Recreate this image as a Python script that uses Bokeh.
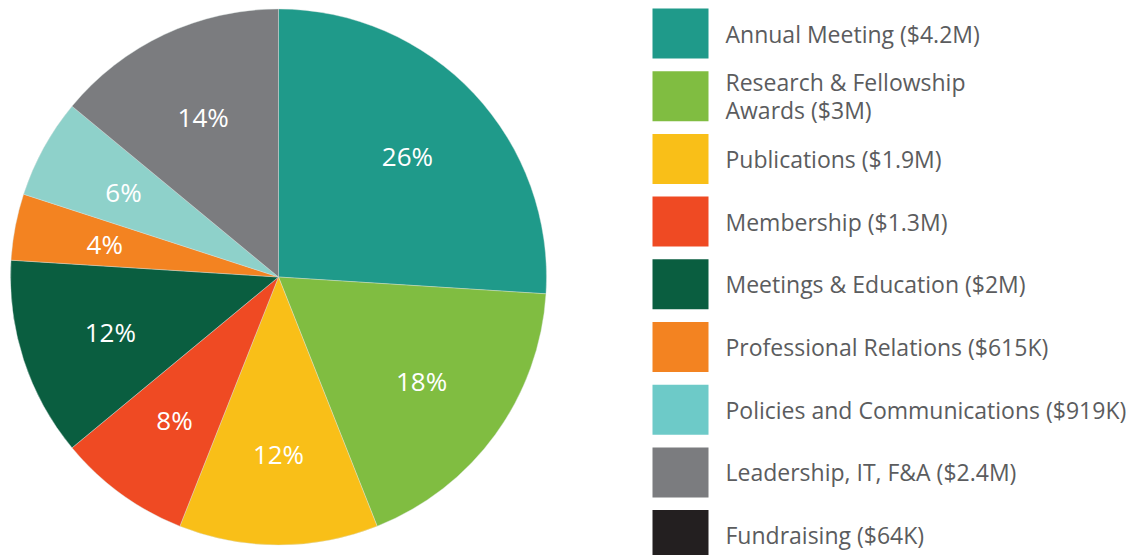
import math
from bokeh.plotting import figure
from bokeh.models import ColumnDataSource
from bokeh.core.properties import value
from bokeh.embed import file_html
from bokeh.resources import INLINE

# ---- data ----
categories = ["Annual Meeting", "Research & Fellowship\nAwards", "Publications", "Membership",
              "Meetings & Education", "Professional Relations", "Policies and Communications",
              "Leadership, IT, F&A", "Fundraising"]
amounts = ["$4.2M", "$3M", "$1.9M", "$1.3M", "$2M", "$615K", "$919K", "$2.4M", "$64K"]
percents = [26, 18, 12, 8, 12, 4, 6, 14, 0]
pie_colors = ["#1f9a8a", "#80bd41", "#f9bf18", "#ef4a23", "#0a5e40", "#f38321", "#8ed1ca", "#7b7c7f", "#231f20"]
legend_colors = ["#1f9a8a", "#80bd41", "#f9bf18", "#ef4a23", "#0a5e40", "#f38321", "#6dcac8", "#7b7c7f", "#231f20"]

W, H = 1129, 555
p = figure(width=W, height=H, x_range=(0, W), y_range=(0, H), output_backend="svg",
           toolbar_location=None, min_border=0, outline_line_color=None)
p.axis.visible = False
p.grid.visible = False
p.background_fill_color = "white"

cx, cy, R = 278, H - 276.5, 268
total = sum(percents)
starts, ends, lx, ly, labels, cols = [], [], [], [], [], []
cum = 0.0
for pc, col in zip(percents, pie_colors):
    if pc <= 0:
        continue
    a0 = math.pi / 2 - 2 * math.pi * cum / total
    a1 = math.pi / 2 - 2 * math.pi * (cum + pc) / total
    starts.append(a0)
    ends.append(a1)
    mid = (a0 + a1) / 2
    lx.append(cx + 0.66 * R * math.cos(mid))
    ly.append(cy + 0.66 * R * math.sin(mid))
    labels.append(f"{pc}%")
    cols.append(col)
    cum += pc

src = ColumnDataSource(dict(start=starts, end=ends, color=cols, lx=lx, ly=ly, label=labels))
p.wedge(x=cx, y=cy, radius=R, start_angle="start", end_angle="end", direction="clock",
        fill_color="color", line_color="#d8e4e0", line_width=0.4, source=src)
p.text(x="lx", y="ly", text="label", source=src, text_color="white",
       text_font=value("Open Sans"), text_font_size="26px", text_align="center",
       text_baseline="middle")

# legend
step = 62.7
box_y = [H - (33 + step * i) for i in range(len(categories))]
legend_text = [f"{c} ({a})" for c, a in zip(categories, amounts)]
lsrc = ColumnDataSource(dict(y=box_y, color=legend_colors, txt=legend_text))
p.rect(x=680, y="y", width=56, height=50, fill_color="color", line_color=None, source=lsrc)
p.text(x=725, y="y", text="txt", source=lsrc, text_color="#5b5c5e",
       text_font=value("Open Sans"), text_font_size="23px", text_align="left",
       text_baseline="middle", text_line_height=0.87)

open("out.html", "w").write(file_html(p, INLINE))
